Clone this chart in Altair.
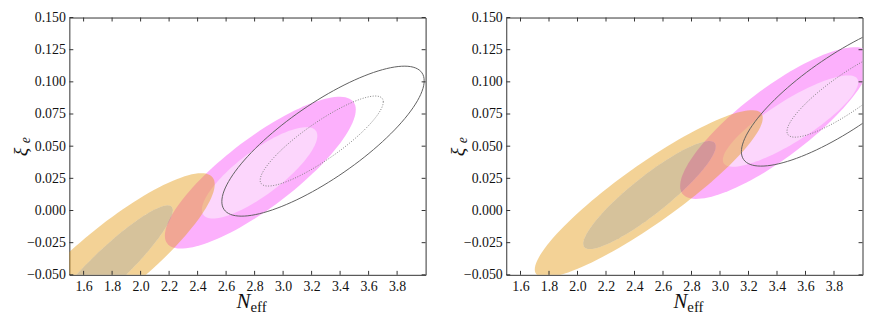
import altair as alt
import pandas as pd

# ---------------- data ----------------
# Each confidence region: centre, half-extent in x / y and correlation
ELL_PANEL = ["left"] * 6 + ["right"] * 6
ELL_KIND = ["mag_outer", "mag_inner", "org_outer", "org_inner", "grey_solid", "grey_dot"] * 2
ELL_CX = [2.84, 2.835, 1.80, 1.776, 3.28, 3.271,
          3.39, 3.495, 2.50, 2.505, 3.86, 3.902]
ELL_CY = [0.0294, 0.0293, -0.038, -0.044, 0.0539, 0.054,
          0.068, 0.0695, 0.013, 0.012, 0.0920, 0.092]
ELL_SX = [0.67, 0.405, 0.72, 0.45, 0.71, 0.432,
          0.67, 0.475, 0.80, 0.465, 0.71, 0.432]
ELL_SY = [0.059, 0.0355, 0.067, 0.048, 0.0583, 0.035,
          0.059, 0.0355, 0.065, 0.042, 0.0575, 0.035]
ELL_RHO = [0.83, 0.81, 0.87, 0.92, 0.805, 0.87,
           0.83, 0.85, 0.905, 0.90, 0.805, 0.87]

X_TICKS = [1.6, 1.8, 2.0, 2.2, 2.4, 2.6, 2.8, 3.0, 3.2, 3.4, 3.6, 3.8]
Y_TICKS = [-0.05, -0.025, 0.0, 0.025, 0.05, 0.075, 0.1, 0.125, 0.15]
X_DOMAIN = [1.5, 4.0]
Y_DOMAIN = [-0.05, 0.15]

# ---------------- build table ----------------
rows = []
for i in range(len(ELL_KIND)):
    r = dict(panel=ELL_PANEL[i], kind=ELL_KIND[i], cx=ELL_CX[i], cy=ELL_CY[i],
             sx=ELL_SX[i], sy=ELL_SY[i], rho=ELL_RHO[i], hole=0,
             hcx=0.0, hcy=0.0, hsx=0.0, hsy=0.0, hrho=0.0)
    if ELL_KIND[i] == "org_outer":
        # annulus: the inner orange region is cut out
        j = i + 1
        r.update(hole=1, hcx=ELL_CX[j], hcy=ELL_CY[j], hsx=ELL_SX[j],
                 hsy=ELL_SY[j], hrho=ELL_RHO[j])
    rows.append(r)
ell = pd.DataFrame(rows)
xt = pd.DataFrame({"v": X_TICKS})
yt = pd.DataFrame({"v": Y_TICKS})
one = pd.DataFrame({"a": [0]})

W, H = 360, 260
N = 120
FONT = "Liberation Serif"
TICK = 4
FRAME = "#333333"
LBL = "#111111"

xs = alt.Scale(domain=X_DOMAIN, nice=False, zero=False)
ys = alt.Scale(domain=Y_DOMAIN, nice=False, zero=False)
X_AXIS = alt.Axis(values=X_TICKS, format=".1f", labelPadding=5, title=None,
                  labelFlush=False, labelOverlap=False, ticks=False,
                  domain=False, grid=False, labelFont=FONT,
                  labelFontSize=14, labelColor=LBL)
Y_AXIS = alt.Axis(values=Y_TICKS, labelPadding=4, labelFlush=False, title=None,
                  labelOverlap=False, ticks=False, domain=False,
                  grid=False, labelFont=FONT, labelFontSize=14,
                  labelColor=LBL,
                  labelExpr="replace(format(datum.value, '.3f'), '-', '\u2212')")


def shapes(panel):
    return (
        alt.Chart(ell)
        .transform_filter(f"datum.panel == '{panel}'")
        .transform_calculate(idx=f"sequence(0, datum.hole ? {2 * N + 2} : {N + 1})")
        .transform_flatten(["idx"])
        .transform_calculate(inner=f"datum.idx > {N} ? 1 : 0")
        .transform_calculate(
            ang=f"datum.inner ? -2*PI*(datum.idx-{N + 1})/{N} : 2*PI*datum.idx/{N}",
            ecx="datum.inner ? datum.hcx : datum.cx",
            ecy="datum.inner ? datum.hcy : datum.cy",
            esx="datum.inner ? datum.hsx : datum.sx",
            esy="datum.inner ? datum.hsy : datum.sy",
            erho="datum.inner ? datum.hrho : datum.rho",
        )
        .transform_calculate(
            x="datum.ecx + datum.esx*cos(datum.ang)",
            y="datum.ecy + datum.esy*(datum.erho*cos(datum.ang) + sqrt(1-datum.erho*datum.erho)*sin(datum.ang))",
        )
    )


def panel(name):
    base = shapes(name)
    enc = dict(
        x=alt.X("x:Q", scale=xs, title=None, axis=X_AXIS),
        y=alt.Y("y:Q", scale=ys, title=None, axis=Y_AXIS),
        order="idx:Q",
    )

    def fill_layer(kind, color, op):
        return base.transform_filter(f"datum.kind == '{kind}'").mark_line(
            fill=color, fillOpacity=op, strokeWidth=0, stroke="transparent", clip=True
        ).encode(**enc)

    mag_o = fill_layer("mag_outer", "#fcb0fc", 1.0)
    mag_i = fill_layer("mag_inner", "#fcd6fc", 1.0)
    org_o = fill_layer("org_outer", "#e49b16", 0.45)
    org_i = fill_layer("org_inner", "#a47721", 0.45)
    g_solid = base.transform_filter("datum.kind == 'grey_solid'").mark_line(
        stroke="#606060", strokeWidth=1.0, clip=True).encode(**enc)
    g_dot = base.transform_filter("datum.kind == 'grey_dot'").mark_line(
        stroke="#808080", strokeWidth=1.0, strokeDash=[1, 1.6], clip=True).encode(**enc)

    tb = alt.Chart(xt).mark_rule(color=FRAME, strokeWidth=1).encode(
        x=alt.X("v:Q", scale=xs, title=None, axis=X_AXIS), y=alt.value(H), y2=alt.value(H - TICK))
    tt = alt.Chart(xt).mark_rule(color=FRAME, strokeWidth=1).encode(
        x=alt.X("v:Q", scale=xs, title=None, axis=X_AXIS), y=alt.value(0), y2=alt.value(TICK))
    tl = alt.Chart(yt).mark_rule(color=FRAME, strokeWidth=1).encode(
        y=alt.Y("v:Q", scale=ys, title=None, axis=Y_AXIS), x=alt.value(0), x2=alt.value(TICK))
    tr = alt.Chart(yt).mark_rule(color=FRAME, strokeWidth=1).encode(
        y=alt.Y("v:Q", scale=ys, title=None, axis=Y_AXIS), x=alt.value(W), x2=alt.value(W - TICK))

    xn = alt.Chart(one).mark_text(text="N", font=FONT, fontStyle="italic", fontSize=21,
                                  align="right", baseline="alphabetic", color="#111").encode(
        x=alt.value(W / 2 + 3), y=alt.value(H + 34))
    xe = alt.Chart(one).mark_text(text="eff", font=FONT, fontSize=15,
                                  align="left", baseline="alphabetic", color="#111").encode(
        x=alt.value(W / 2 + 3), y=alt.value(H + 38))
    yx = alt.Chart(one).mark_text(text="\u03be", font=FONT, fontStyle="italic", fontSize=20,
                                  angle=270, align="center", baseline="alphabetic", color="#111").encode(
        x=alt.value(-43), y=alt.value(H / 2 + 6))
    ye = alt.Chart(one).mark_text(text="e", font=FONT, fontStyle="italic", fontSize=14,
                                  angle=270, align="center", baseline="alphabetic", color="#111").encode(
        x=alt.value(-40), y=alt.value(H / 2 - 6))

    return alt.layer(mag_o, mag_i, org_o, org_i, g_solid, g_dot,
                     tb, tt, tl, tr, xn, xe, yx, ye).properties(width=W, height=H)


chart = alt.hconcat(panel("left"), panel("right"), spacing=20.5).properties(
    padding={"left": 2, "top": 0, "right": 0, "bottom": 0}
).configure_view(stroke=FRAME, strokeWidth=1)

chart.save("out.html", embed_options={"renderer": "svg", "actions": False})
